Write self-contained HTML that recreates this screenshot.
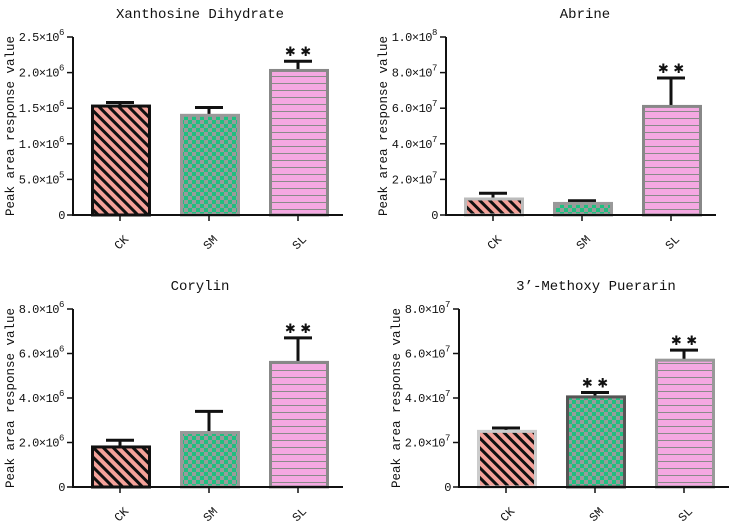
<!DOCTYPE html>
<html><head><meta charset="utf-8"><style>
html,body{margin:0;padding:0;background:#fff;}
svg{display:block;font-family:"Liberation Mono","Noto Serif CJK SC",monospace;}
</style></head><body>
<svg id="chart" width="731" height="523" viewBox="0 0 731 523">
<defs>
<pattern id="pCK" patternUnits="userSpaceOnUse" width="7" height="7" patternTransform="rotate(-45)">
<rect width="7" height="7" fill="#f4a29a"/><rect width="3" height="7" fill="#111"/></pattern>
<pattern id="pSM" patternUnits="userSpaceOnUse" width="8" height="8">
<rect width="8" height="8" fill="#1fbf80"/><rect width="4" height="4" fill="#9a9a9a"/><rect x="4" y="4" width="4" height="4" fill="#9a9a9a"/></pattern>
<pattern id="pSL" patternUnits="userSpaceOnUse" width="8" height="7">
<rect width="8" height="7" fill="#f5a8e2"/><rect y="6" width="8" height="1" fill="#8a8a8a"/></pattern>
</defs>
</svg>
<script>
const categories = ["CK","SM","SL"];
const titles = ["Xanthosine Dihydrate","Abrine","Corylin","3\u2019-Methoxy Puerarin"];
const values1 = [1.53e6,1.40e6,2.03e6];
const errors1 = [0.05e6,0.11e6,0.13e6];
const values2 = [9.0e6,6.5e6,6.1e7];
const errors2 = [3.2e6,1.5e6,1.6e7];
const values3 = [1.8e6,2.45e6,5.6e6];
const errors3 = [0.3e6,0.95e6,1.1e6];
const values4 = [2.5e7,4.05e7,5.7e7];
const errors4 = [0.15e7,0.2e7,0.45e7];
const stars1 = [false,false,true];
const stars2 = [false,false,true];
const stars3 = [false,false,true];
const stars4 = [false,true,true];
const ticks1 = [0,5e5,1e6,1.5e6,2e6,2.5e6];
const tickLabels1 = ["0","5.0\u00d710","1.0\u00d710","1.5\u00d710","2.0\u00d710","2.5\u00d710"];
const tickExp1 = ["","5","6","6","6","6"];
const ticks2 = [0,2e7,4e7,6e7,8e7,1e8];
const tickLabels2 = ["0","2.0\u00d710","4.0\u00d710","6.0\u00d710","8.0\u00d710","1.0\u00d710"];
const tickExp2 = ["","7","7","7","7","8"];
const ticks3 = [0,2e6,4e6,6e6,8e6];
const tickLabels3 = ["0","2.0\u00d710","4.0\u00d710","6.0\u00d710","8.0\u00d710"];
const tickExp3 = ["","6","6","6","6"];
const ticks4 = [0,2e7,4e7,6e7,8e7];
const tickLabels4 = ["0","2.0\u00d710","4.0\u00d710","6.0\u00d710","8.0\u00d710"];
const tickExp4 = ["","7","7","7","7"];

const svg = document.getElementById('chart');
const NS = "http://www.w3.org/2000/svg";
function mk(tag, attrs, parent){const e=document.createElementNS(NS,tag);for(const k in attrs)e.setAttribute(k,attrs[k]);(parent||svg).appendChild(e);return e;}

const panels = [
 {ax:73, y0:215, yTop:37, max:2.5e6, vals:values1, errs:errors1, stars:stars1, ticks:ticks1, tl:tickLabels1, te:tickExp1, title:titles[0], tx:200, ty:18, borders:["#111","#999","#888"]},
 {ax:446, y0:215, yTop:37, max:1e8, vals:values2, errs:errors2, stars:stars2, ticks:ticks2, tl:tickLabels2, te:tickExp2, title:titles[1], tx:585, ty:18, borders:["#bbb","#999","#888"]},
 {ax:73, y0:487, yTop:309, max:8e6, vals:values3, errs:errors3, stars:stars3, ticks:ticks3, tl:tickLabels3, te:tickExp3, title:titles[2], tx:200, ty:290, borders:["#111","#999","#888"]},
 {ax:459, y0:487, yTop:309, max:8e7, vals:values4, errs:errors4, stars:stars4, ticks:ticks4, tl:tickLabels4, te:tickExp4, title:titles[3], tx:596, ty:290, borders:["#ccc","#555","#999"]}
];
const pats = ["url(#pCK)","url(#pSM)","url(#pSL)"];
const ylabelX = [10,383,10,396];

panels.forEach((p,pi)=>{
  const g = mk('g',{});
  
  
  const yS = v => p.y0 - v/p.max*(p.y0-p.yTop);
  const xC = i => p.ax + 47 + i*89;
  const t = mk('text',{x:p.tx,y:p.ty,'text-anchor':'middle','font-size':14,fill:'#111'},g);
  t.textContent = p.title;
  
  
  const yl = mk('text',{x:0,y:0,transform:`translate(${ylabelX[pi]+4},${(p.y0+p.yTop)/2}) rotate(-90)`,'text-anchor':'middle','font-size':12.5,fill:'#111'},g);
  yl.textContent = "Peak area response value";
  
  
  p.vals.forEach((v,i)=>{
    const x = xC(i)-29, y = yS(v);
    const e = yS(v+p.errs[i]);
    const eb = mk('path',{d:`M${xC(i)} ${y} V${e} M${xC(i)-14} ${e} H${xC(i)+14}`,stroke:'#111','stroke-width':3,fill:'none'},g);
    
    
    const r = mk('rect',{x:x+1.5,y:y,width:57,height:p.y0-y,fill:pats[i],stroke:p.borders[i],'stroke-width':3},g);
    
    
    if(p.stars[i]){
      const s = mk('text',{x:xC(i),y:e-5,'text-anchor':'middle','font-size':13,'font-weight':'bold',fill:'#111','font-family':'"DejaVu Sans",sans-serif'},g);
      s.textContent = "\u2731 \u2731";
      
      
    }
    mk('line',{x1:xC(i),x2:xC(i),y1:p.y0,y2:p.y0+6,stroke:'#111','stroke-width':1.5},g);
    const xl = mk('text',{x:0,y:0,transform:`translate(${xC(i)+4},${p.y0+30}) rotate(-45)`,'text-anchor':'middle','font-size':12,fill:'#111'},g);
    xl.textContent = categories[i];
    
    
  });
  const ax = mk('path',{d:`M${p.ax} ${p.yTop} V${p.y0} H${p.ax+270}`,stroke:'#111','stroke-width':2,fill:'none'},g);
  
  
  p.ticks.forEach((tv,k)=>{
    const y = yS(tv);
    mk('line',{x1:p.ax-6,x2:p.ax,y1:y,y2:y,stroke:'#111','stroke-width':1.5},g);
    const tt = mk('text',{x:p.te[k]?p.ax-14:p.ax-8,y:y+4,'text-anchor':'end','font-size':12,fill:'#111','letter-spacing':'-0.5'},g);
    tt.textContent = p.tl[k];
    
    
    if(p.te[k]){
      const sup = mk('text',{x:p.ax-14,y:y-2,'font-size':9,fill:'#111'},g);
      sup.textContent = p.te[k];
    }
  });
});
</script>
</body></html>
